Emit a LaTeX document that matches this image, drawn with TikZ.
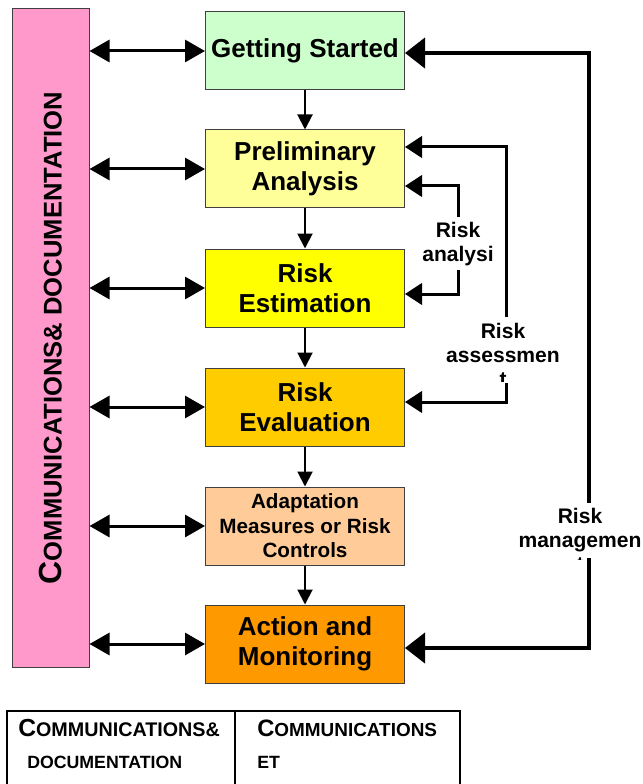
\documentclass[tikz,border=0pt]{standalone}
\usepackage{fontspec}
\setmainfont{Liberation Sans}
\usetikzlibrary{arrows.meta}

\definecolor{boxline}{HTML}{404040}
\definecolor{commpink}{HTML}{FF99CC}
\definecolor{startgreen}{HTML}{CCFFCC}
\definecolor{prelimyellow}{HTML}{FFFF99}
\definecolor{estimyellow}{HTML}{FFFF00}
\definecolor{evalgold}{HTML}{FFCC00}
\definecolor{adaptpeach}{HTML}{FFCC99}
\definecolor{actionorange}{HTML}{FF9900}

% first letter big, the rest as small capitals
\newcommand{\scword}[4]{{\fontsize{#1}{#1}\selectfont #3}{\fontsize{#2}{#2}\selectfont #4}}

\tikzset{
  box/.style={draw=boxline, line width=0.75pt, minimum width=149.25pt,
    minimum height=58.5pt, align=center, inner sep=2pt,
    font=\bfseries\fontsize{19.5}{22.5}\selectfont},
  smallbox/.style={box, font=\bfseries\fontsize{15.5}{18.4}\selectfont},
  bar/.style={draw=boxline, line width=0.75pt, fill=commpink,
    minimum width=57.75pt, minimum height=493.5pt, inner sep=0pt,
    font=\bfseries},
  lbl/.style={align=center, inner sep=0pt,
    font=\bfseries\fontsize{15.8}{18}\selectfont},
  cell/.style={anchor=base west, inner sep=0pt, font=\bfseries},
  dbl/.style={line width=2.25pt,
    {Triangle[length=15pt,width=16.5pt]}-{Triangle[length=15pt,width=16.5pt]}},
  down/.style={line width=1.5pt, -{Triangle[length=11.25pt,width=11.25pt]}},
  fb/.style={line width=2.25pt, -{Triangle[length=12.75pt,width=16pt]}},
  fbm/.style={line width=3pt, -{Triangle[length=15pt,width=22.5pt]}},
  tbl/.style={line width=1.5pt},
}

\begin{document}
\begin{tikzpicture}[x=0.75pt,y=-0.75pt]
  \useasboundingbox (0,0) rectangle (642,784);

  \node[bar] (bar) at (50.5,338)
    {\rotatebox{90}{\scword{24}{19.2}{C}{OMMUNICATIONS\& DOCUMENTATION}}};

  \draw
    (305,51) node[box,fill=startgreen] (start){Getting Started}
    (305,169) node[box,fill=prelimyellow] (prelim){Preliminary\\Analysis}
    (305,288) node[box,fill=estimyellow] (estim){Risk\\Estimation}
    (305,407) node[box,fill=evalgold] (eval){Risk\\Evaluation}
    (305,526) node[smallbox,fill=adaptpeach] (adapt){Adaptation\\Measures or Risk\\Controls}
    (305,644) node[box,fill=actionorange] (action){Action and\\Monitoring};

  % loop labels
  \node[lbl] (anl) at (458,244) {Risk\\analysi};
  \node[lbl] (asmt) at (503,343) {Risk\\assessmen};
  \node[lbl] (mgmt) at (580,530) {Risk\\managemen};
  \begin{scope}
    \clip (490,370) rectangle (520,381);
    \node[lbl, anchor=base] (asmtt) at (503,386) {t};
  \end{scope}
  \begin{scope}
    \clip (570,554) rectangle (600,559.5);
    \node[lbl, anchor=base] (mgmtt) at (580,571) {t};
  \end{scope}

  \coordinate (anl-t) at (458,217);
  \coordinate (anl-b) at (458,270);
  \coordinate (asmt-t) at (506,317);
  \coordinate (asmt-b) at (506,383);
  \coordinate (mgmt-t) at (589,503);
  \coordinate (mgmt-b) at (589,558);

  \begin{scope}[dbl]
    \draw (bar.east |- start) to (start);
    \draw (bar.east |- prelim) to (prelim);
    \draw (bar.east |- estim) to (estim);
    \draw (bar.east |- eval) to (eval);
    \draw (bar.east |- adapt) to (adapt);
    \draw (bar.east |- action) to (action);
  \end{scope}

  \begin{scope}[down]
    \draw (start) to (prelim);
    \draw (prelim) to (estim);
    \draw (estim) to (eval);
    \draw (eval) to (adapt);
    \draw (adapt) to (action);
  \end{scope}

  \draw[fb] (anl-t) |- ([yshift=-12.75pt]prelim.east);
  \draw[fb] (anl-b) |- ([yshift=-4.5pt]estim.east);
  \draw[fb] (asmt-t) |- ([yshift=16.5pt]prelim.east);
  \draw[fb] (asmt-b) |- ([yshift=3.75pt]eval.east);
  \draw[fbm] (mgmt-t) |- ([yshift=-1.5pt]start.east);
  \draw[fbm] (mgmt-b) |- ([yshift=-3pt]action.east);

  % table below
  \draw[tbl] (7,790) |- (460,711) -- (460,790);
  \draw[tbl] (235,711) -- (235,790);
  \node[cell] (c11) at (18,736) {\scword{18.5}{14.8}{C}{OMMUNICATIONS\&}};
  \node[cell] (c21) at (27,768) {\fontsize{13.3}{13.3}\selectfont DOCUMENTATION};
  \node[cell] (c12) at (257,736) {\scword{17.8}{14.2}{C}{OMMUNICATIONS}};
  \node[cell] (c22) at (257,768) {\fontsize{13.3}{13.3}\selectfont ET};
\end{tikzpicture}
\end{document}
